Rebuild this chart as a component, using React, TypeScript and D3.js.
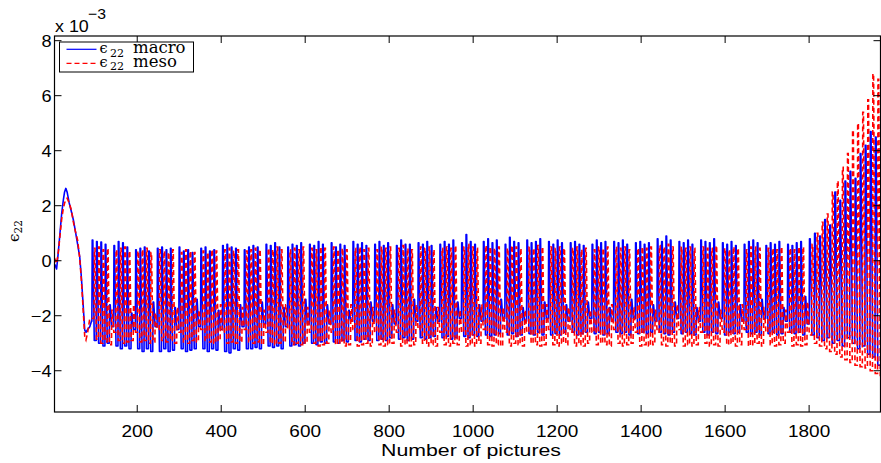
import React from 'react';
import * as d3 from 'd3';

// ---------- data ----------
const xTicks = [200, 400, 600, 800, 1000, 1200, 1400, 1600, 1800];
const yTicks = [-4, -2, 0, 2, 4, 6, 8];

// initial hump (picture index, value x1e-3)
const initX = [1, 4, 8, 12, 16, 20, 24, 27, 30, 33, 38, 43, 48, 53, 58, 63, 67, 71, 75, 78, 82, 87, 91];
const initMacro = [-0.1, -0.15, -0.3, 0.3, 1.0, 1.7, 2.2, 2.5, 2.63, 2.5, 2.1, 1.8, 1.48, 1.05, 0.6, 0.15, -0.6, -1.55, -2.52, -2.6, -2.5, -2.4, -2.2];
const initMeso = [0.0, 0.05, -0.1, 0.3, 0.9, 1.5, 1.9, 2.1, 2.2, 2.27, 2.1, 1.85, 1.4, 1.05, 0.75, 0.1, -0.7, -1.7, -2.75, -2.88, -2.6, -2.1, -2.1];

// oscillating loading cycles, picture 92 .. 1800 (4 cycles + 1 pause per block)
const midStart = 92;
const midEnd = 1800;
const macroPeaks = [
  0.75, 0.7, 0.68, 0.6, -1.6, 0.55, 0.7, 0.65, 0.5, -1.9, 0.4, 0.45, 0.5, 0.35, -1.5,
  0.45, 0.5, 0.4, 0.45, -1.7, 0.5, 0.35, 0.4, 0.3, -1.4, 0.45, 0.5, 0.35, 0.4, -1.8,
  0.55, 0.6, 0.5, 0.45, -1.6, 0.4, 0.5, 0.55, 0.5, -1.5, 0.6, 0.55, 0.65, 0.5, -1.7,
  0.5, 0.6, 0.55, 0.65, -1.4, 0.6, 0.55, 0.7, 0.6, -1.6, 0.65, 0.5, 0.6, 0.55, -1.8,
  0.7, 0.6, 0.65, 0.55, -1.5, 0.6, 0.7, 0.55, 0.65, -1.6, 0.55, 0.75, 0.6, 0.6, -1.4,
  0.65, 0.6, 0.7, 0.55, -1.7, 0.6, 0.7, 0.6, 0.75, -1.5, 0.65, 0.95, 0.7, 0.6, -1.6,
  0.7, 0.8, 0.65, 0.75, -1.4, 0.6, 0.85, 0.7, 0.65, -1.7, 0.75, 0.65, 0.7, 0.8, -1.5,
  0.7, 0.6, 0.75, 0.65, -1.6, 0.65, 0.7, 0.6, 0.55, -1.5, 0.6, 0.75, 0.65, 0.7, -1.7,
  0.7, 0.65, 0.75, 0.6, -1.4, 0.65, 0.7, 0.6, 0.65, -1.6, 0.8, 0.7, 0.9, 0.75, -1.5,
  0.7, 0.65, 0.75, 0.6, -1.7, 0.75, 0.7, 0.65, 0.8, -1.5, 0.65, 0.6, 0.7, 0.55, -1.6,
  0.6, 0.7, 0.75, 0.65, -1.4, 0.55, 0.65, 0.6, 0.7, -1.7, 0.6, 0.55, 0.65, 0.7, -1.3,
];
const macroTroughs = [
  -2.9, -3.0, -3.1, -3.0, -2.4, -3.1, -3.2, -3.1, -3.2, -2.5, -3.2, -3.3, -3.2, -3.3, -2.4,
  -3.3, -3.2, -3.3, -3.25, -2.5, -3.2, -3.3, -3.25, -3.2, -2.4, -3.2, -3.3, -3.2, -3.25, -2.5,
  -3.3, -3.35, -3.2, -3.25, -2.4, -3.2, -3.2, -3.15, -3.2, -2.3, -3.1, -3.15, -3.1, -3.2, -2.4,
  -3.1, -3.05, -3.1, -3.0, -2.3, -3.0, -3.05, -2.95, -3.0, -2.3, -2.95, -3.0, -2.9, -2.95, -2.2,
  -2.9, -2.95, -2.85, -2.9, -2.2, -2.9, -2.85, -2.9, -2.8, -2.3, -2.85, -2.8, -2.9, -2.85, -2.2,
  -2.8, -2.85, -2.8, -2.75, -2.2, -2.8, -2.75, -2.85, -2.8, -2.1, -2.75, -2.8, -2.7, -2.75, -2.2,
  -2.7, -2.75, -2.7, -2.65, -2.1, -2.7, -2.65, -2.75, -2.7, -2.2, -2.65, -2.7, -2.6, -2.7, -2.1,
  -2.7, -2.65, -2.7, -2.6, -2.2, -2.6, -2.7, -2.65, -2.6, -2.1, -2.65, -2.6, -2.7, -2.65, -2.2,
  -2.6, -2.65, -2.6, -2.7, -2.1, -2.65, -2.6, -2.65, -2.6, -2.2, -2.6, -2.65, -2.7, -2.6, -2.1,
  -2.65, -2.6, -2.65, -2.7, -2.2, -2.6, -2.7, -2.6, -2.65, -2.1, -2.7, -2.6, -2.65, -2.6, -2.2,
  -2.6, -2.65, -2.6, -2.7, -2.1, -2.65, -2.6, -2.7, -2.65, -2.2, -2.6, -2.65, -2.6, -2.7, -2.3,
];
const mesoPeaks = [
  0.45, 0.5, 0.4, 0.45, -1.8, 0.4, 0.45, 0.5, 0.35, -1.6, 0.35, 0.4, 0.45, 0.3, -1.9,
  0.4, 0.35, 0.3, 0.4, -1.7, 0.3, 0.4, 0.35, 0.3, -1.8, 0.35, 0.3, 0.4, 0.35, -1.6,
  0.4, 0.45, 0.35, 0.4, -1.7, 0.35, 0.4, 0.45, 0.4, -1.8, 0.45, 0.4, 0.5, 0.4, -1.6,
  0.4, 0.45, 0.4, 0.5, -1.7, 0.45, 0.4, 0.5, 0.45, -1.8, 0.5, 0.4, 0.45, 0.4, -1.6,
  0.45, 0.5, 0.4, 0.45, -1.7, 0.4, 0.5, 0.45, 0.5, -1.8, 0.45, 0.55, 0.45, 0.4, -1.6,
  0.5, 0.45, 0.5, 0.4, -1.7, 0.45, 0.5, 0.45, 0.55, -1.8, 0.5, 0.6, 0.5, 0.45, -1.6,
  0.55, 0.5, 0.45, 0.5, -1.7, 0.45, 0.55, 0.5, 0.45, -1.8, 0.5, 0.45, 0.55, 0.5, -1.6,
  0.5, 0.45, 0.5, 0.45, -1.7, 0.45, 0.5, 0.4, 0.45, -1.8, 0.4, 0.5, 0.45, 0.5, -1.6,
  0.5, 0.45, 0.5, 0.4, -1.7, 0.45, 0.5, 0.45, 0.5, -1.8, 0.55, 0.5, 0.6, 0.5, -1.6,
  0.5, 0.45, 0.5, 0.45, -1.7, 0.5, 0.45, 0.45, 0.55, -1.8, 0.45, 0.4, 0.5, 0.45, -1.6,
  0.4, 0.5, 0.5, 0.45, -1.7, 0.45, 0.45, 0.4, 0.5, -1.8, 0.45, 0.4, 0.5, 0.5, -1.5,
];
const mesoTroughs = [
  -2.85, -3.0, -2.95, -3.05, -2.6, -2.9, -3.0, -2.95, -2.9, -2.6, -2.95, -2.9, -3.0, -2.95, -2.5,
  -2.9, -2.95, -2.9, -3.0, -2.6, -2.95, -3.0, -2.9, -2.95, -2.5, -2.9, -2.95, -3.0, -2.9, -2.6,
  -3.0, -2.95, -3.0, -2.95, -2.5, -2.95, -3.0, -2.95, -3.05, -2.6, -3.0, -3.05, -3.0, -2.95, -2.5,
  -3.05, -3.0, -3.05, -3.0, -2.6, -3.0, -3.1, -3.05, -3.0, -2.6, -3.05, -3.0, -3.1, -3.05, -2.5,
  -3.1, -3.05, -3.0, -3.1, -2.6, -3.05, -3.1, -3.05, -3.0, -2.6, -3.1, -3.05, -3.1, -3.05, -2.5,
  -3.0, -3.1, -3.05, -3.1, -2.6, -3.05, -3.1, -3.0, -3.05, -2.6, -3.1, -3.05, -3.1, -3.0, -2.5,
  -3.05, -3.1, -3.05, -3.1, -2.6, -3.1, -3.0, -3.05, -3.1, -2.6, -3.0, -3.05, -3.1, -3.05, -2.5,
  -3.05, -3.1, -3.0, -3.05, -2.6, -3.1, -3.05, -3.1, -3.0, -2.6, -3.05, -3.0, -3.05, -3.1, -2.5,
  -3.0, -3.1, -3.05, -3.0, -2.6, -3.1, -3.05, -3.1, -3.05, -2.6, -3.05, -3.1, -3.0, -3.1, -2.5,
  -3.1, -3.05, -3.1, -3.05, -2.6, -3.0, -3.1, -3.05, -3.1, -2.6, -3.05, -3.0, -3.1, -3.05, -2.5,
  -3.1, -3.05, -3.0, -3.1, -2.6, -3.05, -3.1, -3.05, -3.0, -2.6, -3.1, -3.05, -3.1, -3.05, -2.7,
];

// final growing cycles, picture 1800 .. 1969
const endEnd = 1969;
const macroEndPeaks = [0.8, 1.0, 0.9, 1.5, 1.3, 2.5, 2.2, 2.9, 3.25, 3.0, 3.9, 4.2, 4.7, 4.5];
const macroEndTroughs = [-2.7, -2.8, -2.9, -2.8, -3.0, -2.9, -3.1, -2.8, -3.0, -3.2, -3.1, -3.4, -3.5, -3.8];
const mesoEndPeaks = [0.6, 1.0, 1.4, 1.7, 2.5, 2.9, 3.4, 3.9, 4.75, 5.0, 5.4, 5.85, 6.8, 6.6];
const mesoEndTroughs = [-3.0, -3.1, -3.2, -3.3, -3.4, -3.5, -3.6, -3.7, -3.8, -3.85, -3.9, -4.0, -4.1, -4.2];

// ---------- layout ----------
const W = 881;
const H = 463;
const left = 54.5;
const right = 880.5;
const top = 36;
const bottom = 412;

type Pt = [number, number];

function addCycles(pts: Pt[], start: number, end: number, peaks: number[], troughs: number[], phase: number) {
  const n = peaks.length;
  const w = (end - start) / n;
  for (let i = 0; i < n; i++) {
    const s = start + (i + phase) * w;
    const prev = pts[pts.length - 1][1];
    pts.push([s, prev]);
    pts.push([s + 0.08 * w, peaks[i]]);
    pts.push([s + 0.22 * w, peaks[i]]);
    pts.push([s + 0.55 * w, troughs[i]]);
  }
}

function buildSeries(initY: number[], p: number[], t: number[], ep: number[], et: number[], phase: number): Pt[] {
  const pts: Pt[] = initX.map((x, i) => [x, initY[i]] as Pt);
  addCycles(pts, midStart, midEnd, p, t, phase);
  addCycles(pts, midEnd, endEnd, ep, et, phase);
  pts.push([endEnd, pts[pts.length - 1][1]]);
  return pts;
}

const sans = '"Liberation Sans", Arial, Helvetica, sans-serif';
const serif = '"DejaVu Serif", serif';

function SText({ x, y, anchor, size, sx, children }: any) {
  return (
    <text
      transform={`translate(${x},${y}) scale(${sx},1)`}
      textAnchor={anchor}
      fontFamily={sans}
      fontSize={size}
      fill="#000"
    >
      {children}
    </text>
  );
}

export default function App() {
  const x = d3.scaleLinear().domain([3, 1970]).range([left, right]);
  const y = d3.scaleLinear().domain([-5.5, 8.17]).range([bottom, top]);
  const line = d3.line<Pt>().x((d) => x(d[0])).y((d) => y(d[1]));

  const macro = buildSeries(initMacro, macroPeaks, macroTroughs, macroEndPeaks, macroEndTroughs, 0);
  const meso = buildSeries(initMeso, mesoPeaks, mesoTroughs, mesoEndPeaks, mesoEndTroughs, 0.5);

  const tl = 7;

  return (
    <svg width={W} height={H} style={{ position: 'absolute', left: 0, top: 0, background: '#fff' }}>
      <defs>
        <clipPath id="plotclip">
          <rect x={left} y={top} width={right - left} height={bottom - top} />
        </clipPath>
      </defs>
      <rect x={0} y={0} width={W} height={H} fill="#fff" />

      <g clipPath="url(#plotclip)">
        <path d={line(macro) || ''} fill="none" stroke="#0000ff" strokeWidth={1.6} strokeLinejoin="round" />
        <path d={line(meso) || ''} fill="none" stroke="#ff0000" strokeWidth={1.6} strokeDasharray="5,3" />
      </g>

      {/* box */}
      <rect x={left} y={top} width={right - left} height={bottom - top} fill="none" stroke="#000" strokeWidth={1.2} />

      {/* x ticks */}
      {xTicks.map((t) => (
        <g key={'x' + t}>
          <line x1={x(t)} x2={x(t)} y1={bottom} y2={bottom - tl} stroke="#000" strokeWidth={1} />
          <line x1={x(t)} x2={x(t)} y1={top} y2={top + tl} stroke="#000" strokeWidth={1} />
          <SText x={x(t)} y={436.5} anchor="middle" size={16.5} sx={1.15}>
            {t}
          </SText>
        </g>
      ))}
      {/* y ticks */}
      {yTicks.map((t) => (
        <g key={'y' + t}>
          <line x1={left} x2={left + tl} y1={y(t)} y2={y(t)} stroke="#000" strokeWidth={1} />
          <line x1={right} x2={right - tl} y1={y(t)} y2={y(t)} stroke="#000" strokeWidth={1} />
          <SText x={51.5} y={y(t) + 6} anchor="end" size={16.5} sx={1.1}>
            {t < 0 ? '\u2212' + Math.abs(t) : String(t)}
          </SText>
        </g>
      ))}

      {/* exponent */}
      <SText x={55} y={32} anchor="start" size={17} sx={1.05}>x 10</SText>
      <SText x={88} y={19} anchor="start" size={15} sx={1.05}>{'\u22123'}</SText>

      {/* axis labels */}
      <text x={471} y={455.5} textAnchor="middle" fontFamily={sans} fontSize={16.5} fill="#000"
        textLength={180} lengthAdjust="spacingAndGlyphs">
        Number of pictures
      </text>
      <g transform="translate(19,231) rotate(-90)">
        <text x={0} y={0} textAnchor="middle" fontFamily={serif} fill="#000">
          <tspan fontSize={15}>{'\u03f5'}</tspan>
          <tspan fontSize={10.5} dy={3}>22</tspan>
        </text>
      </g>

      {/* legend */}
      <rect x={59.5} y={42} width={134} height={30} fill="#fff" stroke="#000" strokeWidth={1} />
      <line x1={66.5} x2={96.5} y1={49.3} y2={49.3} stroke="#0000ff" strokeWidth={1.2} />
      <line x1={66.5} x2={96.5} y1={63.3} y2={63.3} stroke="#ff0000" strokeWidth={1.2} strokeDasharray="5,3" />
      <text x={99.5} y={53} fontFamily={serif} fontSize={14.5} fill="#000">{'\u03f5'}</text>
      <text x={110} y={56.5} fontFamily={serif} fontSize={11} fill="#000">22</text>
      <text x={133} y={53} fontFamily={serif} fontSize={16.5} fill="#000">macro</text>
      <text x={99.5} y={66.5} fontFamily={serif} fontSize={14.5} fill="#000">{'\u03f5'}</text>
      <text x={110} y={70} fontFamily={serif} fontSize={11} fill="#000">22</text>
      <text x={133} y={66.5} fontFamily={serif} fontSize={16.5} fill="#000">meso</text>
    </svg>
  );
}
